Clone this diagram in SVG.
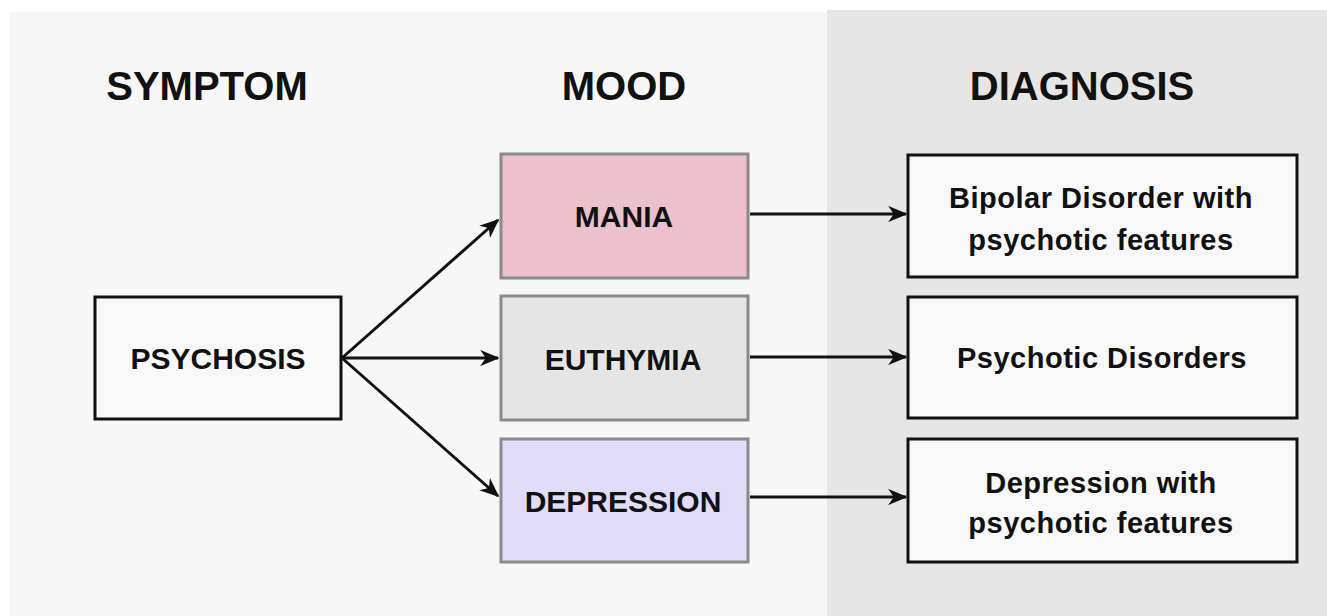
<svg xmlns="http://www.w3.org/2000/svg" width="1327" height="616" viewBox="0 0 1327 616">
<style>
  text { font-family: "Liberation Sans", Arial, sans-serif; font-weight: bold; fill: #111; text-anchor: middle; }
  .hdr { font-size: 40px; }
  .lbl { font-size: 30px; }
  .dx { font-size: 29px; letter-spacing: 0.5px; }
  .blk { fill: #f8f8f8; stroke: #111; stroke-width: 3; }
  .mood { stroke: #8a8a8a; stroke-width: 3; }
  .conn { stroke: #111; stroke-width: 3; fill: none; marker-end: url(#arr); }
</style>
<defs>
  <marker id="arr" viewBox="0 0 12 10" refX="11" refY="5" markerWidth="6.5" markerHeight="5.5" orient="auto" markerUnits="strokeWidth">
    <path d="M0,0 L12,5 L0,10 L3.5,5 z" fill="#111"/>
  </marker>
</defs>
<rect x="0" y="0" width="1327" height="616" fill="#ffffff"/>
<rect x="10" y="12" width="817" height="604" fill="#f7f7f7"/>
<rect x="827" y="10" width="500" height="606" fill="#e6e6e6"/>

<g id="headers">
  <text class="hdr" x="207" y="100">SYMPTOM</text>
  <text class="hdr" x="624" y="100">MOOD</text>
  <text class="hdr" x="1082" y="100">DIAGNOSIS</text>
</g>

<g id="psychosis">
  <rect class="blk" x="95" y="297" width="246" height="122"/>
  <text class="lbl" x="218" y="369">PSYCHOSIS</text>
</g>
<g id="mania">
  <rect class="mood" x="501" y="154" width="247" height="124" fill="#ecc0cc"/>
  <text class="lbl" x="624" y="227">MANIA</text>
</g>
<g id="euthymia">
  <rect class="mood" x="501" y="296" width="247" height="124" fill="#e5e5e5"/>
  <text class="lbl" x="623" y="370">EUTHYMIA</text>
</g>
<g id="depression">
  <rect class="mood" x="501" y="439" width="247" height="123" fill="#e0dcfa"/>
  <text class="lbl" x="623" y="512">DEPRESSION</text>
</g>
<g id="bipolar">
  <rect class="blk" x="908" y="155" width="389" height="122"/>
  <text class="dx" x="1101" y="208">Bipolar Disorder with</text>
  <text class="dx" x="1101" y="250">psychotic features</text>
</g>
<g id="psychotic">
  <rect class="blk" x="908" y="297" width="389" height="121"/>
  <text class="dx" x="1102" y="368">Psychotic Disorders</text>
</g>
<g id="depr-psych">
  <rect class="blk" x="908" y="439" width="389" height="123"/>
  <text class="dx" x="1101" y="493">Depression with</text>
  <text class="dx" x="1101" y="533">psychotic features</text>
</g>

<g id="connectors">
  <line class="conn" x1="342" y1="358" x2="498" y2="220"/>
  <line class="conn" x1="342" y1="358" x2="498" y2="358"/>
  <line class="conn" x1="342" y1="358" x2="498" y2="496"/>
  <line class="conn" x1="750" y1="214" x2="906" y2="214"/>
  <line class="conn" x1="750" y1="357" x2="906" y2="357"/>
  <line class="conn" x1="750" y1="497" x2="906" y2="497"/>
</g>
</svg>
